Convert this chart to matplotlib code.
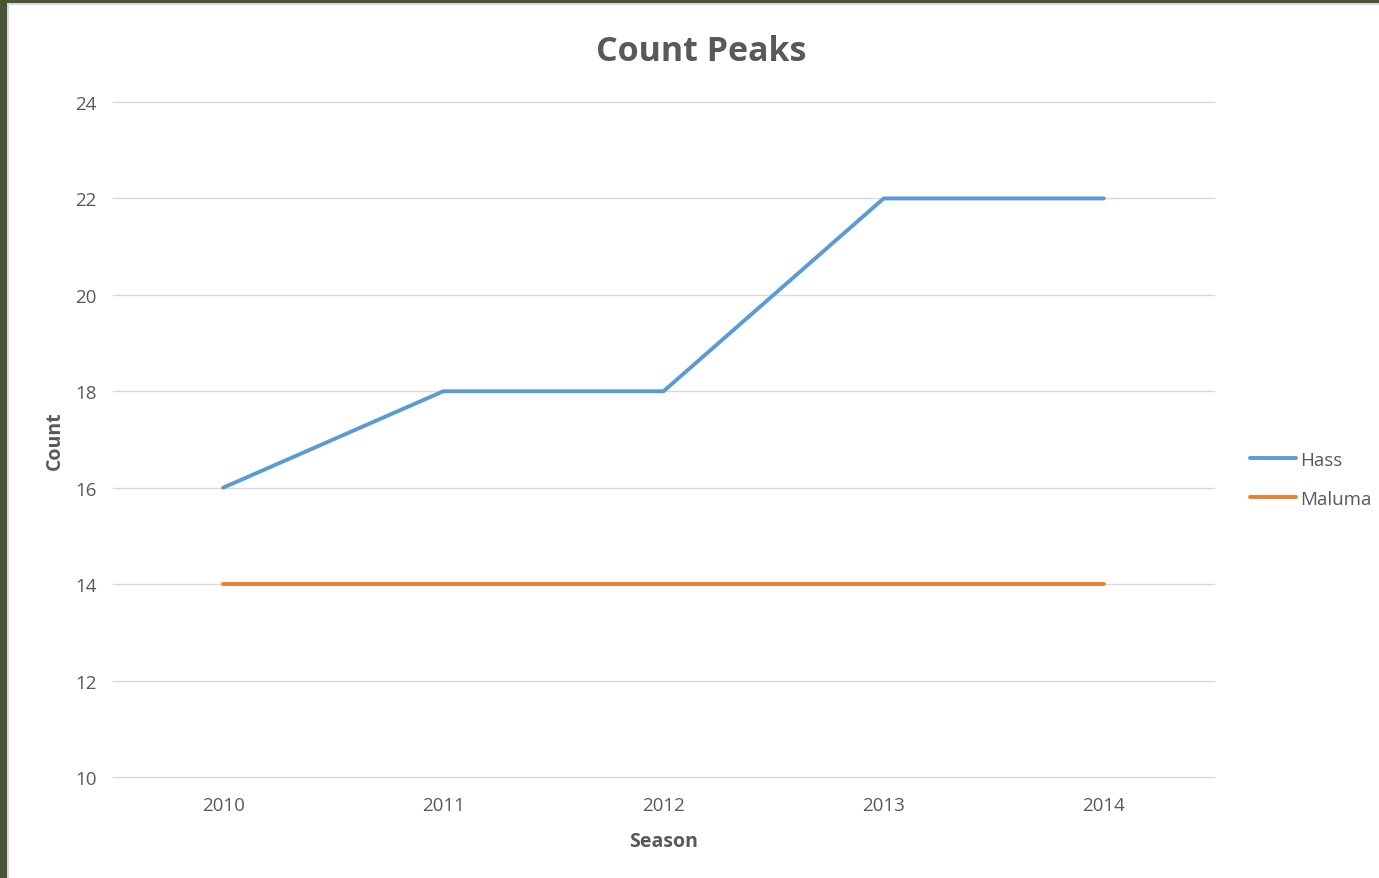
import matplotlib
matplotlib.use("Agg")
import matplotlib.pyplot as plt
from matplotlib.patches import Rectangle

seasons = ["2010", "2011", "2012", "2013", "2014"]
hass = [16, 18, 18, 22, 22]
maluma = [14, 14, 14, 14, 14]
y_ticks = [10, 12, 14, 16, 18, 20, 22, 24]

plt.rcParams['font.family'] = ['Open Sans', 'DejaVu Sans']
text_col = '#595959'

fig = plt.figure(figsize=(13.79, 8.79), dpi=100, facecolor='#4a5535')

# light grey edge and white chart area inside the dark green frame
fig.patches.append(Rectangle((7/1379, 0), 1, 1 - 4/879, transform=fig.transFigure,
                             facecolor='#d9d9d9', edgecolor='none', zorder=-10))
fig.patches.append(Rectangle((9/1379, 0), 1, 1 - 6/879, transform=fig.transFigure,
                             facecolor='white', edgecolor='none', zorder=-9))

ax = fig.add_axes([113/1379, 1 - 778/879, 1101/1379, 675/879])
ax.set_facecolor('none')

x = range(len(seasons))
ax.plot(x, hass, color='#5B9BD5', lw=2.8, label='Hass', solid_capstyle='round', zorder=3)
ax.plot(x, maluma, color='#ED7D31', lw=2.8, label='Maluma', solid_capstyle='round', zorder=3)

ax.set_xlim(-0.5, len(seasons) - 0.5)
ax.set_ylim(10, 24)
ax.set_yticks(y_ticks)
ax.set_xticks(list(x))
ax.set_xticklabels(seasons)
ax.grid(axis='y', color='#d9d9d9', lw=1)
for gl in ax.get_ygridlines():
    gl.set_clip_on(False)
ax.set_axisbelow(True)
for s in ax.spines.values():
    s.set_visible(False)
ax.tick_params(length=0, colors=text_col, labelsize=13.5)
ax.tick_params(axis='y', pad=12)
ax.tick_params(axis='x', pad=14)

ax.set_xlabel('Season', fontsize=14, fontweight='bold', color=text_col, labelpad=12)
ax.set_ylabel('Count', fontsize=14, fontweight='bold', color=text_col, labelpad=7)
fig.suptitle('Count Peaks', x=701/1379, y=1 - 52/879, va='center',
             fontsize=24.5, fontweight='bold', color=text_col)

leg = ax.legend(loc='center left', bbox_to_anchor=(1.033, 0.441), frameon=False,
                fontsize=13.5, handlelength=2.45, handletextpad=0.2, labelspacing=1.1,
                borderpad=0, borderaxespad=0)
for t in leg.get_texts():
    t.set_color(text_col)

fig.savefig('out.png', dpi=100, facecolor=fig.get_facecolor())
